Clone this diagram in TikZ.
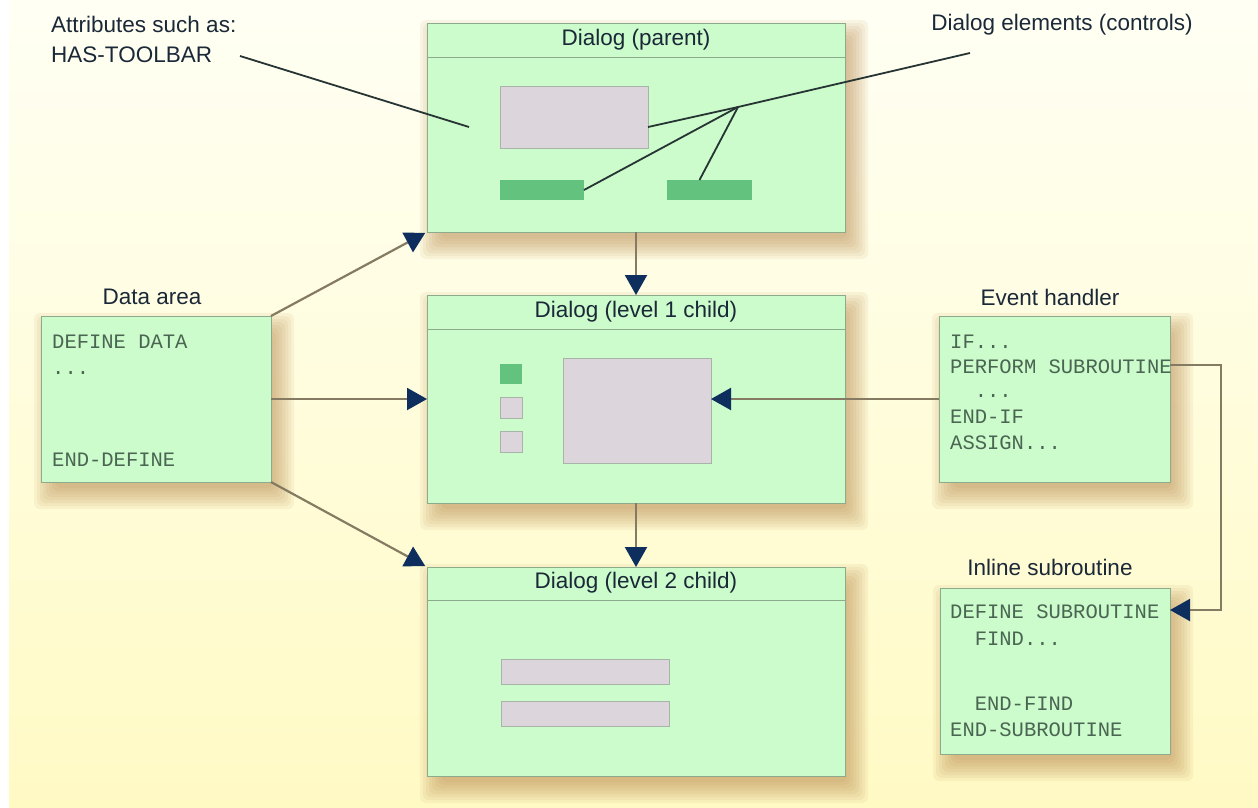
\documentclass[tikz,border=0pt]{standalone}
\usepackage{fontspec}
\setmainfont{Liberation Sans}
\newfontfamily\codefont{Liberation Mono}
\usetikzlibrary{arrows.meta}
\definecolor{bgtop}{HTML}{FFFFF4}
\definecolor{bgbot}{HTML}{FFFAC4}
\definecolor{boxfill}{HTML}{CCFBCC}
\definecolor{boxline}{HTML}{8CAA8C}
\definecolor{ctrlgray}{HTML}{DCD6DC}
\definecolor{ctrlline}{HTML}{A8B4A8}
\definecolor{ctrlgreen}{HTML}{62C27E}
\definecolor{labeltext}{HTML}{1A2838}
\definecolor{codetext}{HTML}{4A6652}
\definecolor{arrowline}{HTML}{857B62}
\definecolor{arrowhead}{HTML}{0E2F5E}
\definecolor{annoline}{HTML}{263434}
\definecolor{shadowc}{HTML}{B8884C}
\pgfdeclarelayer{bglayer}
\pgfdeclarelayer{shadowlayer}
\pgfsetlayers{bglayer,shadowlayer,main}
\newcommand{\myboxshadow}[1]{%
  \begin{pgfonlayer}{shadowlayer}
  \foreach \e in {-6,-3,0,3,6,9,12,15}{%
    \fill[shadowc, opacity=0.09, rounded corners=6pt]
      ([shift={(8pt-\e pt,-12pt+\e pt)}]#1.north west) rectangle
      ([shift={(8pt+\e pt,-12pt-\e pt)}]#1.south east);
  }
  \end{pgfonlayer}}
\tikzset{
  boxbase/.style={draw=boxline, line width=1pt, fill=boxfill, inner sep=0pt, outer sep=0pt},
  grayctl/.style={draw=ctrlline, line width=0.8pt, fill=ctrlgray, inner sep=0pt, outer sep=0pt},
  greenctl/.style={fill=ctrlgreen, inner sep=0pt, outer sep=0pt},
  lbl/.style={text=labeltext, font=\fontsize{22.5pt}{27pt}\selectfont, inner sep=0pt},
  code/.style={text=codetext, font=\codefont\fontsize{20.5pt}{25pt}\selectfont, inner sep=0pt, anchor=base west},
  sepline/.style={draw=boxline, line width=1pt},
  conn/.style={draw=arrowline, line width=2.2pt, -{Triangle[length=20pt,width=22pt,color=arrowhead]}},
  anno/.style={draw=annoline, line width=1.8pt}
}
\begin{document}
\begin{tikzpicture}[x=1pt,y=-1pt]
\useasboundingbox (0,0) rectangle (1258,807);
\begin{pgfonlayer}{bglayer}
\fill[white] (0,0) rectangle (1258,807);
\shade[top color=bgtop, bottom color=bgbot] (9,0) rectangle (1258,807);
\end{pgfonlayer}

% dialog boxes
\node[boxbase, minimum width=418pt, minimum height=209pt] (parent) at (636,127.5) {};
\node[boxbase, minimum width=418pt, minimum height=208pt] (lvl1) at (636,399) {};
\node[boxbase, minimum width=418pt, minimum height=209pt] (lvl2) at (636,671.5) {};
\node[boxbase, minimum width=230pt, minimum height=166pt] (data) at (156,399) {};
\node[boxbase, minimum width=231pt, minimum height=166pt] (event) at (1054.5,399) {};
\node[boxbase, minimum width=230pt, minimum height=166pt] (inline) at (1055,671) {};
\myboxshadow{parent}
\myboxshadow{lvl1}
\myboxshadow{lvl2}
\myboxshadow{data}
\myboxshadow{event}
\myboxshadow{inline}

\draw[sepline] ([yshift=-34pt]parent.north west) -- ([yshift=-34pt]parent.north east);
\draw[sepline] ([yshift=-34pt]lvl1.north west) -- ([yshift=-34pt]lvl1.north east);
\draw[sepline] ([yshift=-33pt]lvl2.north west) -- ([yshift=-33pt]lvl2.north east);

\node[lbl] (tparent) at (636,40) {Dialog (parent)};
\node[lbl] (tlvl1) at (636,312) {Dialog (level 1 child)};
\node[lbl] (tlvl2) at (636,583) {Dialog (level 2 child)};

% controls in parent
\node[grayctl, minimum width=148pt, minimum height=62pt] (pgray) at (574,117) {};
\node[greenctl, minimum width=84pt, minimum height=20pt] (bar1) at (542,190) {};
\node[greenctl, minimum width=85pt, minimum height=20pt] (bar2) at (709.5,190) {};

% controls in level 1
\node[greenctl, minimum width=22pt, minimum height=20pt] (sq1) at (511,374) {};
\node[grayctl, minimum width=22pt, minimum height=21pt] (sq2) at (511,407.5) {};
\node[grayctl, minimum width=22pt, minimum height=21pt] (sq3) at (511,441.5) {};
\node[grayctl, minimum width=148pt, minimum height=105pt] (bgray) at (637,410.5) {};

% controls in level 2
\node[grayctl, minimum width=168pt, minimum height=25pt] (fld1) at (585,671.5) {};
\node[grayctl, minimum width=168pt, minimum height=25pt] (fld2) at (585,713.5) {};

% side labels
\node[lbl] (ldata) at (152,297) {Data area};
\node[lbl] (levent) at (1050,297) {Event handler};
\node[lbl] (linline) at (1050,567) {Inline subroutine};
\node[lbl, anchor=base west] (attr1) at (51,32) {Attributes such as:};
\node[lbl, anchor=base west] (attr2) at (51,62) {HAS-TOOLBAR};
\node[lbl] (lelem) at (1062,25) {Dialog elements (controls)};

% code texts
\node[code] (d1) at (52,348) {DEFINE DATA};
\node[code] (d2) at (52,374) {...};
\node[code] (d3) at (52,466) {END-DEFINE};

\node[code] (e1) at (950,348) {IF...};
\node[code] (e2) at (950,373) {PERFORM SUBROUTINE};
\node[code] (e3) at (950,397) {\hphantom{XX}...};
\node[code] (e4) at (950,423) {END-IF};
\node[code] (e5) at (950,449) {ASSIGN...};

\node[code] (s1) at (950,618) {DEFINE SUBROUTINE};
\node[code] (s2) at (950,645) {\hphantom{XX}FIND...};
\node[code] (s3) at (950,710) {\hphantom{XX}END-FIND};
\node[code] (s4) at (950,736) {END-SUBROUTINE};

% annotation lines
\coordinate (attrS) at (240,56);
\coordinate (attrE) at (469,127);
\coordinate (elemS) at (970,53);
\coordinate (junc) at (738,107);
\draw[anno] (attrS) -- (attrE);
\draw[anno] (elemS) -- (junc);
\draw[anno] (junc) -- ([yshift=-10pt]pgray.east);
\draw[anno] (junc) -- (bar1.east);
\draw[anno] (junc) -- ([xshift=-10pt]bar2.north);

% connectors
\draw[conn, shorten >=2pt] (data.north east) -- (parent.south west);
\draw[conn] (data.east) -- (lvl1.west);
\draw[conn, shorten >=2pt] (data.south east) -- (lvl2.north west);
\draw[conn] (parent.south) -- (lvl1.north);
\draw[conn] (lvl1.south) -- (lvl2.north);
\draw[conn] (event.west) -- (event.west -| bgray.east);
\coordinate (pfOut) at (1170,365);
\coordinate (bendA) at (1221,365);
\coordinate (bendB) at (1221,610);
\coordinate (isIn) at (1170,610);
\draw[conn] (pfOut) -- (bendA) -- (bendB) -- (isIn);
\end{tikzpicture}
\end{document}
